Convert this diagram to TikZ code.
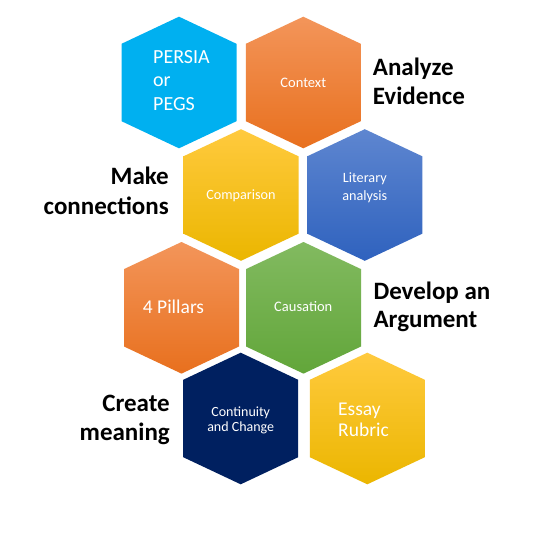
\documentclass[tikz,border=0pt]{standalone}
\usepackage{fontspec}
\setmainfont{Carlito}
\definecolor{cyanP}{HTML}{00B0F0}
\definecolor{navyC}{HTML}{002060}
\definecolor{orT}{HTML}{F3955A}
\definecolor{orB}{HTML}{E8701E}
\definecolor{goT}{HTML}{FFCA3E}
\definecolor{goB}{HTML}{EBB600}
\definecolor{blT}{HTML}{5E86D0}
\definecolor{blB}{HTML}{2F62BE}
\definecolor{grT}{HTML}{82BA60}
\definecolor{grB}{HTML}{62A63A}
\begin{document}
\begin{tikzpicture}[x=1pt,y=-1pt,
  hexcyan/.style={fill=cyanP},
  hexnavy/.style={fill=navyC},
  hexorange/.style={top color=orT,bottom color=orB},
  hexgold/.style={top color=goT,bottom color=goB},
  hexblue/.style={top color=blT,bottom color=blB},
  hexgreen/.style={top color=grT,bottom color=grB},
  celltxt/.style={inner sep=0pt,text=white},
  lbl/.style={inner sep=0pt,text=black,font=\bfseries\fontsize{25}{29}\selectfont}]
\useasboundingbox (0,0) rectangle (541,549);
\fill[white] (0,0) rectangle (541,549);
% hexagons
\foreach \x/\y/\s in {179/82.5/hexcyan, 303.3/82.5/hexorange,
    241/195/hexgold, 364.8/195/hexblue,
    181.5/307.8/hexorange, 303.5/307.8/hexgreen,
    240.7/418.5/hexnavy, 367.3/418.5/hexgold}
  \path[\s] (\x,\y-65.8) -- (\x+57.5,\y-38.7) -- (\x+57.5,\y+38.7)
     -- (\x,\y+65.8) -- (\x-57.5,\y+38.7) -- (\x-57.5,\y-38.7) -- cycle;
% texts in hexagons
\node[celltxt,font=\fontsize{20}{23.5}\selectfont,align=left,anchor=north west]
  (persia) at (153,63-14) {\rule{0pt}{14pt}PERSIA\\or\\PEGS};
\node[celltxt,font=\fontsize{14.5}{17}\selectfont,anchor=base]
  (context) at (303.3,87.3) {Context};
\node[celltxt,font=\fontsize{14.2}{17}\selectfont,anchor=base]
  (comparison) at (241,199) {Comparison};
\node[celltxt,font=\fontsize{14.2}{17.7}\selectfont,align=center,anchor=north]
  (literary) at (364.8,182.3-12) {\rule{0pt}{12pt}Literary\\analysis};
\node[celltxt,font=\fontsize{19.5}{23}\selectfont,anchor=base west]
  (pillars) at (142.7,313.3) {4 Pillars};
\node[celltxt,font=\fontsize{14.5}{17}\selectfont,anchor=base]
  (causation) at (303.3,311.7) {Causation};
\node[celltxt,font=\fontsize{14}{15.2}\selectfont,align=center,anchor=north]
  (continuity) at (240.7,416-12) {\rule{0pt}{12pt}Continuity\\and Change};
\node[celltxt,font=\fontsize{19.5}{21.7}\selectfont,align=left,anchor=north west]
  (essay) at (338,415-14) {\rule{0pt}{14pt}Essay\\Rubric};
% side labels
\node[lbl,align=left,anchor=north west] (analyze) at (372.7,75-20)
  {\rule{0pt}{20pt}Analyze\\Evidence};
\node[lbl,align=right,anchor=north east,font=\bfseries\fontsize{25}{30}\selectfont]
  (make) at (169,184.3-20) {\rule{0pt}{20pt}Make\\connections};
\node[lbl,align=left,anchor=north west,font=\bfseries\fontsize{25}{27.5}\selectfont]
  (develop) at (373.3,299.3-20) {\rule{0pt}{20pt}Develop an\\Argument};
\node[lbl,align=right,anchor=north east,font=\bfseries\fontsize{25}{28.3}\selectfont]
  (create) at (170,411.7-20) {\rule{0pt}{20pt}Create\\meaning};
\end{tikzpicture}
\end{document}
